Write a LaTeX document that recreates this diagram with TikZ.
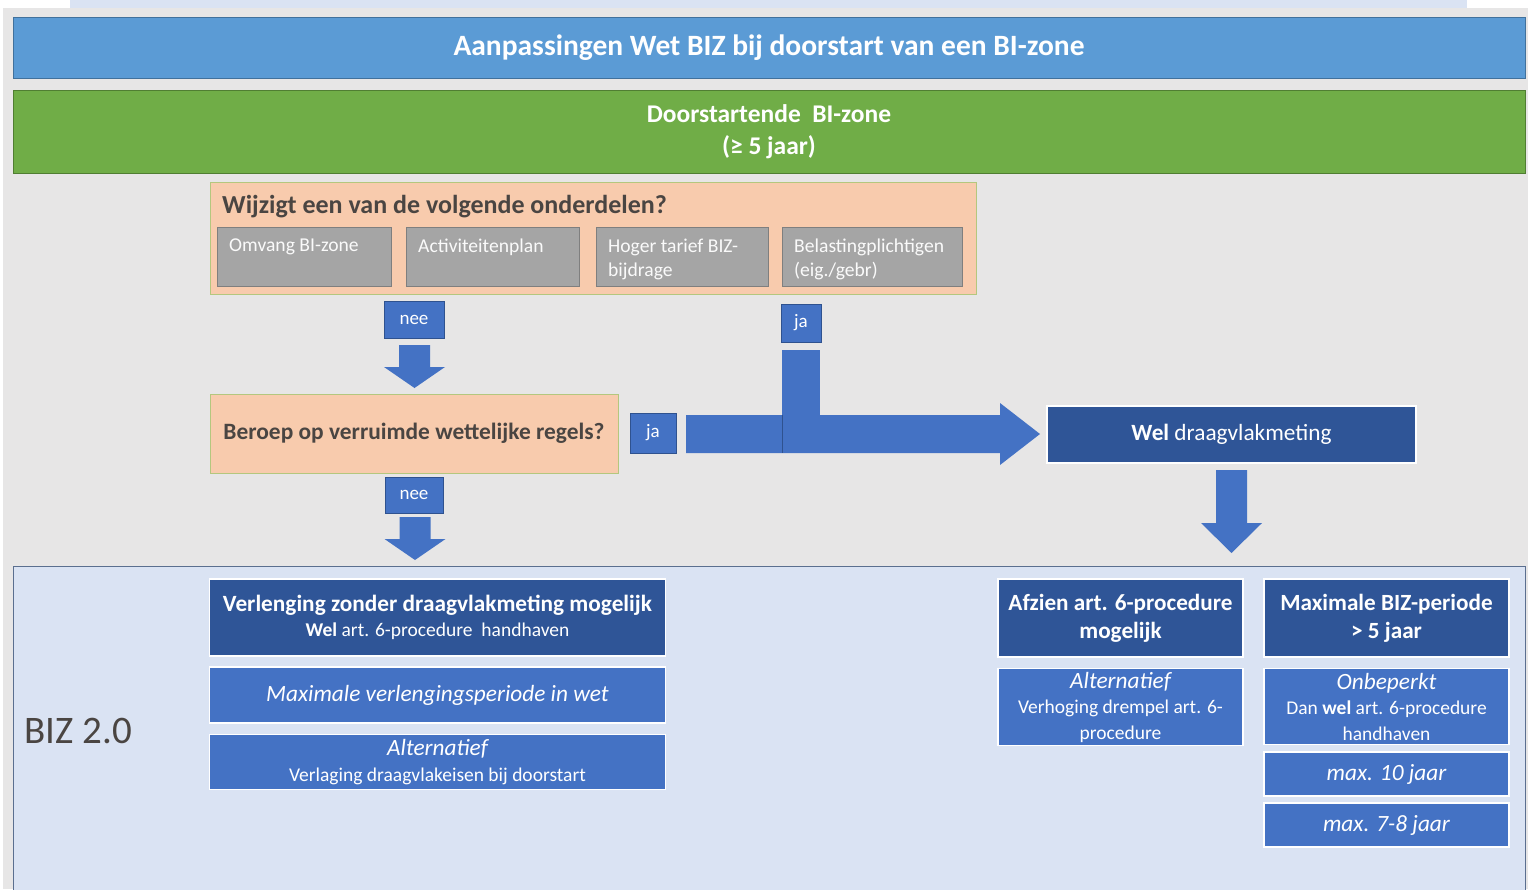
\documentclass[tikz,border=0pt]{standalone}
\usepackage{fontspec}
\setmainfont{Carlito}
\usepackage{xcolor}
\usepackage{tikz}
\usetikzlibrary{calc}

\definecolor{achtergrond}{HTML}{E7E6E6}
\definecolor{lichtblauw}{HTML}{DAE3F3}
\definecolor{titelblauw}{HTML}{5B9BD5}
\definecolor{titelrand}{HTML}{41719C}
\definecolor{groen}{HTML}{70AD47}
\definecolor{groenrand}{HTML}{507E32}
\definecolor{zalm}{HTML}{F8CBAD}
\definecolor{zalmrand}{HTML}{B4C77E}
\definecolor{grijs}{HTML}{A5A5A5}
\definecolor{grijsrand}{HTML}{7F7F7F}
\definecolor{blauw}{HTML}{4472C4}
\definecolor{blauwrand}{HTML}{2F528F}
\definecolor{donkerblauw}{HTML}{2F5597}
\definecolor{paneelrand}{HTML}{5B6F8F}
\definecolor{tekstgrijs}{HTML}{4A4542}

\newcommand{\groot}{\fontsize{23.3}{27}\selectfont}
\newcommand{\klein}{\fontsize{19.5}{25.5}\selectfont}

\begin{document}
\begin{tikzpicture}[x=1pt, y=-1pt,
  balk/.style={draw, line width=1pt, minimum width=1512pt, text=white, align=center},
  vraagbox/.style={draw=zalmrand, fill=zalm, line width=1pt},
  vraagtekst/.style={text=tekstgrijs, font=\bfseries\fontsize{26}{30}\selectfont, inner sep=0pt},
  onderdeel/.style={draw=grijsrand, fill=grijs, line width=1pt, minimum height=59pt},
  keuze/.style={draw=blauwrand, fill=blauw, line width=1pt, text=white, font=\fontsize{19}{21}\selectfont},
  pijl/.style={fill=blauw},
  kopblok/.style={draw=white, fill=donkerblauw, line width=1.5pt, text=white, align=center, font=\klein},
  blok/.style={draw=white, fill=blauw, line width=1.5pt, text=white, align=center, font=\klein},
]

\useasboundingbox (0,0) rectangle (1530,889);
\fill[white] (0,0) rectangle (1530,889);
\fill[achtergrond] (3,8) rectangle (1528,889);
\fill[lichtblauw] (70,0) rectangle (1467,8);

%//titel en start
\node [balk, draw=titelrand, fill=titelblauw, minimum height=61pt, font=\bfseries\fontsize{29.5}{32}\selectfont] (titel) at (769,47.5) {Aanpassingen Wet BIZ bij doorstart van een BI-zone};
\node [balk, draw=groenrand, fill=groen, minimum height=83pt, font=\bfseries\fontsize{25.5}{32}\selectfont] (start) at (769,131.5) {Doorstartende\ \ BI-zone\\(≥ 5 jaar)};

%//vraag 1
\node [vraagbox, minimum width=766pt, minimum height=112pt] (wijzigt) at (593,238) {};
\node [vraagtekst, anchor=west] (wijzigttekst) at (222,207) {Wijzigt\ een van de volgende onderdelen?};

\foreach \i/\x/\w/\val in {1/217/174/{Omvang BI-zone}, 2/406/173/{Activiteitenplan}, 3/596/172/{Hoger tarief BIZ-\\bijdrage}, 4/782/180/{Belastingplichtigen\\(eig./gebr)}}
{
\node [onderdeel, minimum width=\w pt, anchor=north west] (onderdeel\i) at (\x,227) {};
\node [anchor=north west, inner sep=0pt, align=left, text=white!95!grijs, font=\fontsize{19.6}{24}\selectfont] (onderdeeltekst\i) at (\x+12,238.5) {\val};
}

\node [keuze, minimum width=60pt, minimum height=37pt] (nee1) at (414,319.5) {nee};
\node [keuze, minimum width=40pt, minimum height=38pt] (ja1) at (801,323) {ja};

%//vraag 2
\node [vraagbox, minimum width=408pt, minimum height=79pt, text=tekstgrijs, font=\bfseries\fontsize{23.4}{27}\selectfont] (beroep) at (414,433.5) {Beroep op verruimde wettelijke regels?};
\node [keuze, minimum width=46pt, minimum height=40pt] (ja2) at (653,433) {ja};
\node [keuze, minimum width=58pt, minimum height=36pt] (nee2) at (414,495) {nee};

\node [kopblok, minimum width=369pt, minimum height=57pt, font=\groot] (meting) at (1231.5,434.5) {\textbf{Wel} draagvlakmeting};

%//pijlen
\foreach \x/\a/\b/\c in {414.5/345/367/388, 415/517/539/560, 1231.5/470/523/553}
\fill[pijl] (\x-15.5,\a) -- (\x+15.5,\a) -- (\x+15.5,\b) -- (\x+30.5,\b) -- (\x,\c) -- (\x-30.5,\b) -- (\x-15.5,\b) -- cycle;

\fill[pijl] (686,415) -- (1000,415) -- (1000,403) -- (1040,434) -- (1000,465) -- (1000,453) -- (686,453) -- cycle;
\fill[pijl] (782,350) rectangle (820,453);
\draw[blauwrand, line width=0.6pt] (782,415) -- (782,453);

%//BIZ 2.0
\node [draw=paneelrand, fill=lichtblauw, line width=1pt, minimum width=1512pt, minimum height=330pt, anchor=north] (biz) at (769,566) {};
\node [anchor=west, text=tekstgrijs, font=\fontsize{39}{44}\selectfont] (biztekst) at (21,731) {BIZ 2.0};

\node [kopblok, minimum width=456pt, minimum height=77pt] (verlenging) at (437.5,617.5) {{\bfseries\groot Verlenging zonder draagvlakmeting mogelijk}\\\textbf{Wel} art. 6-procedure\ \ handhaven};
\node [blok, minimum width=456pt, minimum height=56pt, font=\itshape\groot] (maxperiode) at (437.5,695) {Maximale verlengingsperiode in wet};
\node [blok, minimum width=456pt, minimum height=55pt] (alt1) at (437.5,762) {{\itshape\groot Alternatief}\\Verlaging draagvlakeisen bij doorstart};

\node [kopblok, minimum width=245pt, minimum height=78pt, font=\bfseries\fontsize{23.2}{28}\selectfont] (afzien) at (1120.5,618) {Afzien art. 6-procedure\\mogelijk};
\node [blok, minimum width=245pt, minimum height=77pt] (alt2) at (1120.5,707) {{\itshape\groot Alternatief}\\Verhoging drempel art. 6-\\procedure};

\node [kopblok, minimum width=245pt, minimum height=78pt, font=\bfseries\fontsize{23.2}{28}\selectfont] (biz5) at (1386.5,618) {Maximale BIZ-periode\\> 5 jaar};
\node [blok, minimum width=245pt, minimum height=76pt] (onbeperkt) at (1386.5,706.5) {{\itshape\groot Onbeperkt}\\Dan \textbf{wel} art. 6-procedure\\handhaven};
\node [blok, minimum width=245pt, minimum height=44pt, font=\itshape\groot] (max10) at (1386.5,774) {max. 10 jaar};
\node [blok, minimum width=245pt, minimum height=44pt, font=\itshape\groot] (max78) at (1386.5,825) {max. 7-8 jaar};

\end{tikzpicture}
\end{document}
